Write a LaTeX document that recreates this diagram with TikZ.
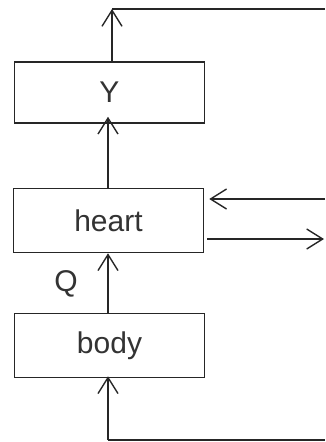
\documentclass[tikz,border=0pt]{standalone}
\usepackage{fontspec}
\setmainfont{Liberation Sans}
\usetikzlibrary{arrows.meta}
\begin{document}
\begin{tikzpicture}[x=1pt,y=-1pt,
  blockbox/.style={draw=black!85, line width=1.5pt, minimum width=190pt, minimum height=62pt, inner sep=0pt, font=\fontsize{30}{36}\selectfont, text=black!80},
  conn/.style={draw=black!85, line width=1.4pt},
  arr/.style={conn, -{Straight Barb[length=16pt,width=20pt,line width=1.4pt]}}]
\useasboundingbox (0,0) rectangle (325,442);
\fill[white] (0,0) rectangle (325,442);
\node[blockbox, minimum height=61pt] (Y) at (109.5,92.5) {Y};
\node[blockbox, minimum height=64pt] (heart) at (108.5,220.5) {heart};
\node[blockbox, minimum height=64pt] (body) at (109.5,345.5) {body};
\node[font=\fontsize{30}{36}\selectfont, text=black!80] (Q) at (66,284) {Q};
\coordinate (tl) at (112,9);
\coordinate (tr) at (325,9);
\coordinate (bl) at (108,440);
\coordinate (br) at (325,440);
\coordinate (inR) at (325,199);
\coordinate (outR) at (324,239);
% top output loop
\draw[arr] (Y.north -| tl) -- (tl);
\draw[conn] (tl) -- (tr);
% heart to Y
\draw[arr, shorten >=-1pt] (heart.north -| 108,0) -- ([yshift=6pt]Y.south -| 108,0);
% body to heart
\draw[arr] (body.north -| 108,0) -- (heart.south -| 108,0);
% bottom input
\draw[conn] (br) -- (bl);
\draw[arr] (bl) -- ([yshift=2pt]body.south -| bl);
% side arrows
\draw[arr] (inR) -- ([xshift=5pt]heart.east |- inR);
\draw[arr] ([xshift=3pt]heart.east |- outR) -- (outR);
\end{tikzpicture}
\end{document}
